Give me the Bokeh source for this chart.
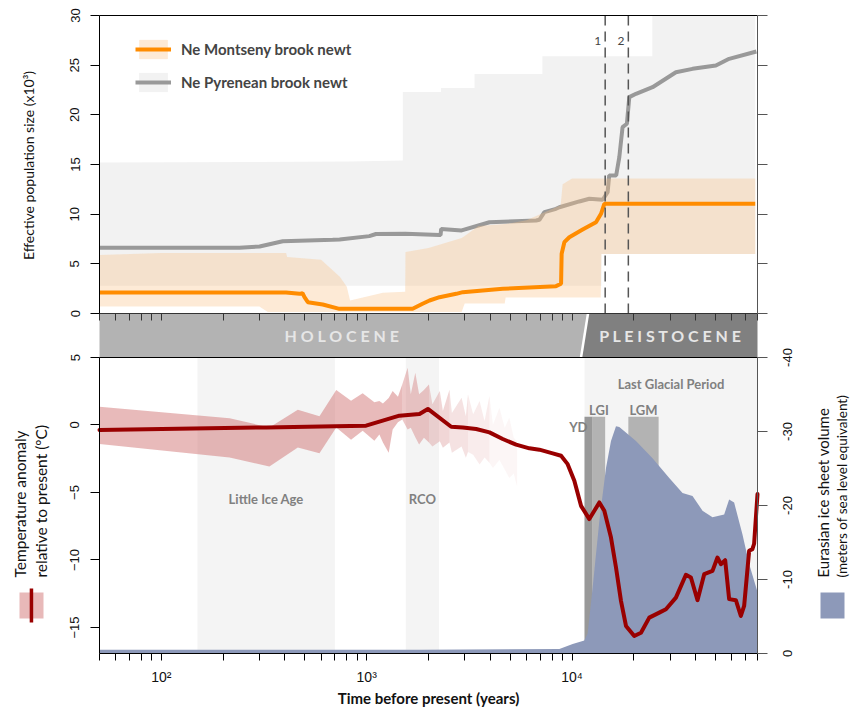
import math
from bokeh.plotting import figure
from bokeh.models import (Range1d, LinearAxis, LogAxis, FixedTicker, Label,
                          Legend, LegendItem, BoxAnnotation)
from bokeh.core.properties import value
from bokeh.embed import file_html
from bokeh.resources import INLINE

# ---------------- data ----------------
x_ticks = [50, 60, 70, 80, 90,
           100, 200, 300, 400, 500, 600, 700, 800, 900,
           1000, 2000, 3000, 4000, 5000, 6000, 7000, 8000, 9000,
           10000, 20000, 30000, 40000, 50000, 60000, 70000, 80000]
x_tick_labels = {100: "10²", 1000: "10³", 10000: "10⁴"}
ne_ticks = [0, 5, 10, 15, 20, 25, 30]
temp_ticks = [-15, -10, -5, 0, 5]
temp_tick_labels = ["−15", "−10", "−5", "0", "5"]
ice_ticks = [0, 10, 20, 30, 40]
ice_tick_labels = ["0", "-10", "-20", "-30", "-40"]

# Effective population size (x10^3)
pyr_years = [50, 240, 301, 390, 683, 738, 1030, 1110, 1545, 2264, 2290, 2305, 2900, 3961, 6680,
             6934, 7333, 8356, 8675, 10850, 12140, 14100, 14900, 15170, 16400, 16990,
             17620, 18500, 19000, 20480, 24660, 32050, 38610, 50160, 58210, 79000]
pyr_ne = [6.61, 6.61, 6.75, 7.28, 7.42, 7.45, 7.79, 8.0, 8.02, 7.9, 7.9, 8.5, 8.36, 9.19, 9.36,
          9.43, 10.2, 10.54, 10.7, 11.28, 11.55, 11.45, 12.21, 13.89, 13.89, 15.74,
          18.76, 19.1, 21.78, 22.12, 22.78, 24.29, 24.63, 24.97, 25.64, 26.38]

mont_years = [50, 405, 471, 487, 498, 517, 611, 736, 761, 1674, 1871, 2023, 2264, 2729, 2938,
              4597, 8356, 8843, 8900, 9175, 9700, 11260, 13080, 13840, 14360, 78000]
mont_ne = [2.11, 2.11, 1.98, 2.05, 1.64, 1.14, 0.91, 0.47, 0.47, 0.47, 0.98, 1.31, 1.64, 1.98, 2.15,
           2.48, 2.75, 2.99, 6.01, 7.18, 7.68, 8.45, 9.19, 10.04, 11.04, 11.04]

pyr_ci_years = [50, 830, 1500, 1500, 2300, 2300, 3350, 3350, 7170, 7170, 13900, 13900, 24600, 24600, 78000]
pyr_ci_hi = [15.2, 15.3, 15.4, 22.3, 22.3, 22.7, 22.7, 24.1, 24.1, 25.9, 25.9, 25.9, 25.9, 30.0, 30.0]
pyr_ci_lo = [2.8, 2.8, 2.8, 2.8, 2.8, 2.8, 2.8, 2.8, 2.8, 2.8, 2.8, 6.0, 6.0, 6.0, 6.0]

mont_ci_years = [50, 100, 300, 330, 405, 410, 600, 740, 800, 830, 1200, 1540, 1545, 2000, 2900, 3000,
                 3500, 4700, 4750, 6000, 8800, 9000, 10000, 13800, 13900, 78000]
mont_ci_hi = [5.9, 6.1, 6.1, 6.1, 6.1, 5.7, 5.4, 3.7, 2.7, 1.3, 2.1, 2.2, 6.2, 6.6, 7.6, 7.8,
              8.8, 9.0, 9.0, 9.4, 10.9, 13.0, 13.6, 13.6, 13.6, 13.6]
mont_ci_lo = [0.7, 0.7, 0.7, 0.15, 0.15, 0.15, 0.15, 0.15, 0.15, 0.15, 0.15, 0.15, 0.15, 0.15, 0.15, 1.0,
              1.0, 1.0, 1.6, 1.6, 1.6, 1.6, 1.6, 1.6, 6.0, 6.0]

# Temperature anomaly relative to present (degC)
temp_years = [50, 324, 700, 993, 1197, 1443, 1808, 1986, 2579, 2938, 3413, 3961, 4597, 5341,
              6199, 6934, 8048, 8843, 9520, 10260, 11060, 12140, 12840, 13580, 14360, 15476,
              16370, 17310, 18310, 20090, 21660, 23770, 26590, 28660, 32050, 35850, 37920,
              40830, 44010, 48300, 51070, 53050, 55680, 58210, 62770, 66370, 68870, 72850,
              75560, 77020, 80000]
temp_anom = [-0.37, -0.18, -0.1, -0.05, 0.32, 0.69, 0.81, 1.19, -0.13, -0.18, -0.30, -0.55, -1.04, -1.46,
             -1.73, -1.83, -2.1, -2.28, -2.9, -4.13, -5.99, -6.97, -6.36, -5.74, -6.36, -8.34,
             -10.56, -13.03, -14.89, -15.63, -15.39, -14.27, -13.9, -13.65, -12.79, -11.1, -11.3,
             -12.98, -11.05, -10.81, -9.82, -10.31, -10.02, -12.9, -12.98, -14.15, -13.41, -9.32,
             -9.2, -8.8, -5.12]

tband_years = [50, 215, 336, 462, 589, 711, 839, 956, 1090, 1153, 1200, 1280, 1338, 1420, 1490,
               1583, 1640, 1725, 1800, 1900, 2010, 2090, 2270, 2350, 2530, 2600, 2898, 3040,
               3114, 3300, 3546, 3750, 3961, 4120, 4430, 4700, 4950, 5200, 5400]
tband_hi = [1.36, 0.49, -0.18, 1.13, 0.64, 2.6, 1.8, 2.35, 1.68, 1.78, 1.6, 2.0, 2.52, 2.1, 3.0,
            4.24, 2.27, 3.87, 2.27, 2.6, 3.0, 1.53, 2.52, 1.04, 2.61, 0.89, 2.02, 0.64,
            2.27, 0.79, 1.78, 0.3, 2.15, 0.02, 1.28, -0.2, 0.54, -0.94, -1.2]
tband_lo = [-1.41, -2.4, -3.07, -1.66, -2.1, -0.18, -1.09, -0.42, -1.16, -0.7, -1.3, -2.05, -0.33, 0.2, 0.41,
            -0.33, -0.2, -0.9, -1.44, -0.94, -1.3, -1.59, -1.2, -1.68, -1.3, -2.05, -1.6, -2.42,
            -2.0, -2.2, -2.92, -2.4, -2.8, -3.18, -2.6, -3.3, -3.93, -3.6, -4.55]

# Eurasian ice sheet volume (m sea level equivalent)
ice_years = [50, 1800, 8675, 10070, 11477, 11910, 12597, 13580, 14640, 15476, 16370, 16990,
             20480, 24660, 29740, 34510, 38610, 43180, 48300, 55060, 58210, 61560, 67560,
             72850, 80000]
ice_vol = [0.5, 0.5, 0.6, 1.3, 1.75, 2.7, 8.9, 17.9, 25.1, 28.7, 30.7, 30.6,
           28.7, 26.4, 23.7, 21.7, 21.3, 19.3, 18.4, 18.8, 20.8, 20.4, 16.1,
           12.1, 8.3]

eras = ["HOLOCENE", "PLEISTOCENE"]
era_start = [50, 11500]
era_end = [11500, 80000]

periods = ["Little Ice Age", "RCO", "Last Glacial Period"]
period_start = [150, 1550, 11500]
period_end = [700, 2250, 80000]

events = ["YD", "LGI", "LGM"]
event_start = [11500, 12600, 18800]
event_end = [12600, 14500, 26400]
event_top = [32, 32, 32]

markers = ["1", "2"]
marker_years = [14500, 18800]

# ---------------- layout (pixels on the canvas) ----------------
W, H = 850, 710
PL, PR = 99, 757            # plot area left / right
P_TOP, P_NE0 = 15, 313      # Ne = 30 / Ne = 0
P_T5, P_BOT = 357, 653      # temperature = 5 / panel bottom
X_MIN, X_MAX = 50, 80000
temp_bottom = -16.93

dpp = math.log10(X_MAX / X_MIN) / (PR - PL)
x_lo = X_MIN / 10 ** (PL * dpp)
x_hi = X_MAX * 10 ** ((W - PR) * dpp)
ne_pp = 30.0 / (P_NE0 - P_TOP)
ne_lo, ne_hi = -(H - P_NE0) * ne_pp, 30 + P_TOP * ne_pp
t_pp = (5 - temp_bottom) / (P_BOT - P_T5)
t_lo, t_hi = temp_bottom - (H - P_BOT) * t_pp, 5 + P_T5 * t_pp
i_pp = 40.0 / (P_BOT - P_T5)
i_lo, i_hi = -(H - P_BOT) * i_pp, 40 + P_T5 * i_pp
band_bottom = -(P_T5 - P_NE0) * ne_pp
slant = 1.04

TICK_FONT = "Liberation Sans"
TXT_FONT = "Lato"
ORANGE = "#ff8c00"
GRAYL = "#999999"
RED = "#990000"
ICE = "#8d99b9"

p = figure(width=W, height=H, x_axis_type="log", x_axis_location=None, y_axis_location=None,
           x_range=Range1d(x_lo, x_hi), y_range=Range1d(ne_lo, ne_hi),
           output_backend="svg", toolbar_location=None, min_border=0,
           outline_line_color=None, background_fill_color="white", border_fill_color="white")
p.extra_y_ranges = {"temp": Range1d(t_lo, t_hi), "ice": Range1d(i_lo, i_hi)}
p.xgrid.visible = False
p.ygrid.visible = False

# ---- bottom panel: periods, events, ice, temperature ----
p.quad(left=period_start, right=period_end, bottom=temp_bottom, top=5, y_range_name="temp",
       fill_color="#f4f4f4", line_color=None)
p.quad(left=event_start, right=event_end, bottom=0, top=event_top, y_range_name="ice",
       fill_color=["#999999", "#b3b3b3", "#b3b3b3"], line_color=None)
p.varea(x=ice_years, y1=[0] * len(ice_years), y2=ice_vol, y_range_name="ice",
        fill_color=ICE, fill_alpha=1.0)

fade_breaks = [1490, 2010, 2530, 3114, 3961]
fade_alpha = [0.45, 0.36, 0.27, 0.19, 0.12, 0.06]
bnds = [tband_years[0]] + fade_breaks + [tband_years[-1]]
for i in range(len(bnds) - 1):
    idx = [k for k, yv in enumerate(tband_years) if bnds[i] <= yv <= bnds[i + 1]]
    p.varea(x=[tband_years[k] for k in idx], y1=[tband_lo[k] for k in idx],
            y2=[tband_hi[k] for k in idx], y_range_name="temp",
            fill_color="#cc6666", fill_alpha=fade_alpha[i])
p.line(temp_years, temp_anom, y_range_name="temp", line_color=RED, line_width=4,
       line_join="round", line_cap="round")

# ---- era band ----
hol_x = [era_start[0], era_end[0] / slant, era_end[0] * slant, era_start[0]]
ple_x = [era_start[1] / slant, era_end[1], era_end[1], era_start[1] * slant]
p.patches(xs=[hol_x, ple_x], ys=[[band_bottom, band_bottom, 0, 0]] * 2,
          fill_color=["#b3b3b3", "#808080"], line_color=None)
p.segment(x0=[era_end[0] / slant], y0=[band_bottom], x1=[era_end[0] * slant], y1=[0],
          line_color="white", line_width=2.5)
p.text(x=[math.sqrt(s * e) for s, e in zip(era_start, era_end)], y=[band_bottom / 2] * 2,
       text=[" ".join(list(n)) for n in eras], text_align="center", text_baseline="middle",
       text_font=value(TXT_FONT), text_font_style="bold", text_font_size="16px",
       text_color="#e6e6e6")

# ---- top panel ----
pyr_band = p.varea(x=pyr_ci_years, y1=pyr_ci_lo, y2=pyr_ci_hi, fill_color="#f2f2f2", fill_alpha=1.0)
pyr_line = p.line(pyr_years, pyr_ne, line_color=GRAYL, line_width=4)
mont_band = p.varea(x=mont_ci_years, y1=mont_ci_lo, y2=mont_ci_hi, fill_color="#f9c48a", fill_alpha=0.35)
mont_line = p.line(mont_years, mont_ne, line_color=ORANGE, line_width=4)

p.segment(x0=marker_years, x1=marker_years, y0=[0] * 2, y1=[30] * 2, line_color="#555555",
          line_width=1.5, line_dash="10 6")
p.text(x=marker_years, y=[27.4] * 2, text=markers, text_align="right", text_baseline="middle",
       x_offset=-4, text_font=value(TXT_FONT), text_font_size="12px", text_color="#444444")

# ---- period / event labels ----
pc = [math.sqrt(s * e) for s, e in zip(period_start, period_end)]
p.text(x=pc, y=[-5.5, -5.5, 3.0], text=periods, y_range_name="temp", text_align="center",
       text_baseline="middle", text_font=value(TXT_FONT), text_font_style="bold",
       text_font_size="13px", text_color="#808080")
p.text(x=[event_start[0]], y=[30.6], text=[events[0]], y_range_name="ice", text_align="right",
       text_baseline="middle", x_offset=3, text_font=value(TXT_FONT), text_font_style="bold",
       text_font_size="13px", text_color="#808080")
p.text(x=[math.sqrt(s * e) for s, e in zip(event_start[1:], event_end[1:])], y=[32.9, 32.9],
       text=events[1:], y_range_name="ice", text_align="center", text_baseline="middle",
       text_font=value(TXT_FONT), text_font_style="bold", text_font_size="13px",
       text_color="#808080")

# ---------------- axes ----------------
def yaxis(side, rng, loc, bounds, ticks, labels, color="black", tick_len=9, **kw):
    ax = LinearAxis(y_range_name=rng, fixed_location=loc, bounds=bounds,
                    ticker=FixedTicker(ticks=ticks, minor_ticks=[]),
                    major_label_overrides=dict(zip(ticks, labels)),
                    major_tick_out=tick_len, major_tick_in=0, minor_tick_line_color=None,
                    axis_line_color=color, major_tick_line_color=color,
                    major_label_standoff=11, major_label_text_font=TICK_FONT,
                    major_label_text_font_size="13px", major_label_text_color="#111111", **kw)
    p.add_layout(ax, side)
    return ax

yaxis("left", "default", X_MIN, (0, 30), ne_ticks, [str(t) for t in ne_ticks],
      major_label_orientation="vertical")
yaxis("left", "temp", X_MIN, (temp_bottom, 5), temp_ticks, temp_tick_labels,
      major_label_orientation="vertical")
yaxis("right", "default", X_MAX, (0, 30), ne_ticks, [""] * len(ne_ticks), color="#555555",
      tick_len=10)
yaxis("right", "ice", X_MAX, (0, 40), ice_ticks, [""] * len(ice_ticks), color="#555555",
      tick_len=10)
# ice tick labels, read bottom-to-top and centred on their ticks
p.text(x=[X_MAX] * len(ice_ticks), y=ice_ticks, text=ice_tick_labels, y_range_name="ice",
       angle=math.pi / 2, x_offset=30, text_align="center", text_baseline="middle",
       text_font=value(TICK_FONT), text_font_size="13px", text_color="#111111")

def xaxis(side, rng, loc, ticks, labels, tick_len, color="black"):
    ax = LogAxis(y_range_name=rng, fixed_location=loc, bounds=(X_MIN, X_MAX),
                 ticker=FixedTicker(ticks=ticks, minor_ticks=[]),
                 major_label_overrides=dict(zip(ticks, labels)),
                 major_tick_out=tick_len, major_tick_in=0, minor_tick_line_color=None,
                 axis_line_color=color, major_tick_line_color=color,
                 major_label_standoff=8, major_label_text_font=TICK_FONT,
                 major_label_text_font_size="14px", major_label_text_color="#111111")
    p.add_layout(ax, side)
    return ax

xaxis("below", "ice", 0, x_ticks, [x_tick_labels.get(t, "") for t in x_ticks], 7)
xaxis("below", "default", 0, x_ticks, [""] * len(x_ticks), 7, color="#333333")
xaxis("above", "default", 30, [], [], 0)
xaxis("above", "temp", 5, [], [], 0)

# ---------------- legend (top panel) ----------------
legend = Legend(items=[LegendItem(label="Ne Montseny brook newt", renderers=[mont_band, mont_line]),
                       LegendItem(label="Ne Pyrenean brook newt", renderers=[pyr_band, pyr_line])],
                location=(135, H - 94), orientation="vertical", border_line_color=None,
                background_fill_alpha=0, padding=0, margin=0, spacing=9,
                glyph_width=36, glyph_height=24, label_height=24, label_standoff=10,
                label_text_font=TXT_FONT, label_text_font_style="bold",
                label_text_font_size="15px")
p.add_layout(legend)

# ---------------- axis titles and keys ----------------
sc = dict(x_units="screen", y_units="screen", angle=math.pi / 2, text_baseline="middle",
          text_font=TXT_FONT, text_color="#111111")
p.add_layout(Label(x=28, y=H - 165, text="Effective population size (x10³)", text_align="center",
                   text_font_size="14px", **sc))
p.add_layout(Label(x=19, y=H - 577, text="Temperature anomaly", text_align="left",
                   text_font_size="15.5px", **sc))
p.add_layout(Label(x=40, y=H - 577, text="relative to present (ºC)", text_align="left",
                   text_font_size="15.5px", **sc))
p.add_layout(Label(x=822, y=H - 577, text="Eurasian ice sheet volume", text_align="left",
                   text_font_size="15px", **sc))
p.add_layout(Label(x=841, y=H - 577, text="(meters of sea level equivalent)", text_align="left",
                   text_font_size="13.5px", **sc))
p.add_layout(Label(x=(PL + PR) / 2, y=H - 697, x_units="screen", y_units="screen",
                   text="Time before present (years)", text_align="center", text_baseline="middle",
                   text_font=TXT_FONT, text_font_style="bold", text_font_size="15px",
                   text_color="#111111"))

bu = dict(left_units="screen", right_units="screen", top_units="screen", bottom_units="screen",
          fill_alpha=1.0, line_color=None, level="overlay")
p.add_layout(BoxAnnotation(left=19, right=43, bottom=H - 618, top=H - 592, fill_color="#e8b9b9", **bu))
p.add_layout(BoxAnnotation(left=29.2, right=32.7, bottom=H - 622, top=H - 588, fill_color=RED, **bu))
p.add_layout(BoxAnnotation(left=820, right=844, bottom=H - 618, top=H - 592, fill_color=ICE, **bu))

open("out.html", "w").write(file_html(p, INLINE))
